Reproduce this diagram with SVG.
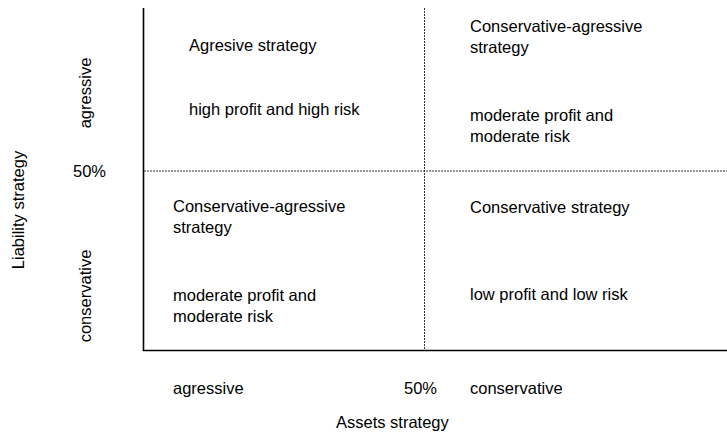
<svg xmlns="http://www.w3.org/2000/svg" width="727" height="435" viewBox="0 0 727 435">
<style>
text{font-family:"Liberation Sans",Arial,sans-serif;font-size:16.5px;fill:#000}
.axis{stroke:#000;stroke-width:1.6;fill:none}
.div{stroke:#333;stroke-width:1;stroke-dasharray:2 1;fill:none}
</style>
<rect width="727" height="435" fill="#fff"/>
<g id="connectors">
<line class="axis" x1="143.5" y1="8" x2="143.5" y2="350.5"/>
<line class="axis" x1="142.7" y1="350.5" x2="727" y2="350.5"/>
<line class="div" x1="144" y1="171" x2="727" y2="171"/>
<line class="div" x1="424.5" y1="8" x2="424.5" y2="350"/>
</g>
<g id="q-top-left">
<text x="189" y="51">Agresive strategy</text>
<text x="189" y="115">high profit and high risk</text>
</g>
<g id="q-top-right">
<text x="470" y="32">Conservative-agressive</text>
<text x="470" y="53">strategy</text>
<text x="470" y="121">moderate profit and</text>
<text x="470" y="142">moderate risk</text>
</g>
<g id="q-bottom-left">
<text x="173" y="212">Conservative-agressive</text>
<text x="173" y="233">strategy</text>
<text x="173" y="301">moderate profit and</text>
<text x="173" y="322">moderate risk</text>
</g>
<g id="q-bottom-right">
<text x="470" y="213">Conservative strategy</text>
<text x="470" y="300">low profit and low risk</text>
</g>
<g id="y-axis-labels">
<text transform="translate(91,93) rotate(-90)" text-anchor="middle">agressive</text>
<text transform="translate(91,296) rotate(-90)" text-anchor="middle">conservative</text>
<text x="73" y="177">50%</text>
<text transform="translate(24,210) rotate(-90)" text-anchor="middle">Liability strategy</text>
</g>
<g id="x-axis-labels">
<text x="173" y="394">agressive</text>
<text x="404" y="394">50%</text>
<text x="470" y="394">conservative</text>
<text x="336" y="428">Assets strategy</text>
</g>
</svg>
